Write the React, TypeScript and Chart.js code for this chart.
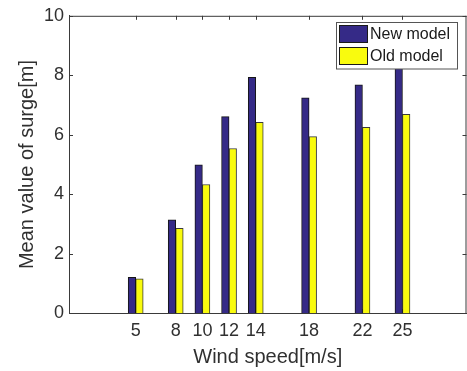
import React, { useEffect, useRef } from "react";
import { Chart, registerables } from "chart.js";

Chart.register(...registerables);

const windSpeeds = [5, 8, 10, 12, 14, 18, 22, 25];
const newModel = [1.21, 3.14, 4.99, 6.61, 7.93, 7.24, 7.68, 8.25];
const oldModel = [1.16, 2.86, 4.33, 5.54, 6.42, 5.94, 6.25, 6.69];
const yTicks = [0, 2, 4, 6, 8, 10];
const seriesLabels = ["New model", "Old model"];
const seriesColors = ["#352a87", "#f9fb0e"];
const xTitle = "Wind speed[m/s]";
const yTitle = "Mean value of surge[m]";

const FONT = "'Liberation Sans', Arial, Helvetica, sans-serif";
const AXIS_COLOR = "#3a3a3a";
const TEXT_COLOR = "#303030";

const boxPlugin = {
  id: "boxTicks",
  beforeDatasetsDraw(chart: any) {
    const { ctx, chartArea, scales } = chart;
    const { left, right, top, bottom } = chartArea;
    ctx.save();
    ctx.strokeStyle = AXIS_COLOR;
    ctx.lineWidth = 1;
    ctx.beginPath();
    ctx.moveTo(left, top + 0.5);
    ctx.lineTo(right, top + 0.5);
    ctx.moveTo(right - 0.5, top);
    ctx.lineTo(right - 0.5, bottom);
    const tl = 4;
    yTicks.forEach((v) => {
      const y = Math.round(scales.y.getPixelForValue(v)) + 0.5;
      ctx.moveTo(left, y);
      ctx.lineTo(left + tl, y);
      ctx.moveTo(right, y);
      ctx.lineTo(right - tl, y);
    });
    windSpeeds.forEach((v) => {
      const x = Math.round(scales.x.getPixelForValue(v)) + 0.5;
      ctx.moveTo(x, top);
      ctx.lineTo(x, top + tl);
      ctx.moveTo(x, bottom);
      ctx.lineTo(x, bottom - tl);
    });
    ctx.stroke();
    ctx.restore();
  },
};

const legendPlugin = {
  id: "insideLegend",
  afterDatasetsDraw(chart: any) {
    const { ctx } = chart;
    ctx.save();
    const bx = 336.5, by = 22.5, bw = 121, bh = 46.5;
    ctx.fillStyle = "#ffffff";
    ctx.fillRect(bx, by, bw, bh);
    ctx.strokeStyle = "#555555";
    ctx.lineWidth = 1;
    ctx.strokeRect(bx, by, bw, bh);
    const rows = [25.5, 47.5];
    seriesLabels.forEach((lab, i) => {
      ctx.fillStyle = seriesColors[i];
      ctx.fillRect(339.5, rows[i], 28, 17);
      ctx.strokeStyle = "#1a1a1a";
      ctx.strokeRect(339.5, rows[i], 28, 17);
      ctx.fillStyle = "#1a1a1a";
      ctx.font = `16px ${FONT}`;
      ctx.textBaseline = "middle";
      ctx.textAlign = "left";
      ctx.fillText(lab, 370, rows[i] + 9);
    });
    ctx.restore();
  },
};

export default function App() {
  const ref = useRef<HTMLCanvasElement | null>(null);

  useEffect(() => {
    if (!ref.current) return;
    const chart = new Chart(ref.current, {
      type: "bar",
      data: {
        datasets: [
          {
            label: seriesLabels[0],
            data: windSpeeds.map((x, i) => ({ x, y: newModel[i] })),
            backgroundColor: seriesColors[0],
            borderColor: "#151515",
            borderWidth: 1,
            barThickness: 7.5,
          },
          {
            label: seriesLabels[1],
            data: windSpeeds.map((x, i) => ({ x, y: oldModel[i] })),
            backgroundColor: seriesColors[1],
            borderColor: "#3a3a3a",
            borderWidth: 1,
            barThickness: 7.5,
          },
        ],
      },
      options: {
        animation: false,
        responsive: false,
        devicePixelRatio: 1,
        layout: { padding: { top: 11, right: 0.5, left: 0, bottom: 0 } },
        plugins: { legend: { display: false }, tooltip: { enabled: false } },
        scales: {
          x: {
            type: "linear",
            min: 0,
            max: 29.8,
            offset: false,
            grid: { display: false, offset: false, drawTicks: false },
            border: { display: true, color: AXIS_COLOR, width: 1 },
            afterBuildTicks: (scale: any) => {
              scale.ticks = windSpeeds.map((v) => ({ value: v }));
            },
            afterFit: (scale: any) => {
              scale.height = 57.7;
            },
            ticks: {
              autoSkip: false,
              maxRotation: 0,
              padding: 7,
              color: TEXT_COLOR,
              font: { family: FONT, size: 18 },
              callback: (v: any) => String(v),
            },
            title: {
              display: true,
              text: xTitle,
              color: TEXT_COLOR,
              font: { family: FONT, size: 20 },
              padding: { top: 0, bottom: 2 },
            },
          },
          y: {
            type: "linear",
            min: 0,
            max: 10,
            grid: { display: false, drawTicks: false },
            border: { display: true, color: AXIS_COLOR, width: 1 },
            afterBuildTicks: (scale: any) => {
              scale.ticks = yTicks.map((v) => ({ value: v }));
            },
            afterFit: (scale: any) => {
              scale.width = 69;
            },
            ticks: {
              padding: 5,
              color: TEXT_COLOR,
              font: { family: FONT, size: 18 },
              callback: (v: any) => String(v),
            },
            title: {
              display: true,
              text: yTitle,
              color: TEXT_COLOR,
              font: { family: FONT, size: 20 },
              padding: { top: 15, bottom: 0 },
            },
          },
        },
      },
      plugins: [boxPlugin, legendPlugin],
    } as any);
    return () => chart.destroy();
  }, []);

  return (
    <div
      style={{
        position: "absolute",
        left: 0,
        top: 0,
        width: 467,
        height: 371,
        background: "#ffffff",
        overflow: "hidden",
      }}
    >
      <canvas ref={ref} width={467} height={371} style={{ display: "block" }} />
    </div>
  );
}
